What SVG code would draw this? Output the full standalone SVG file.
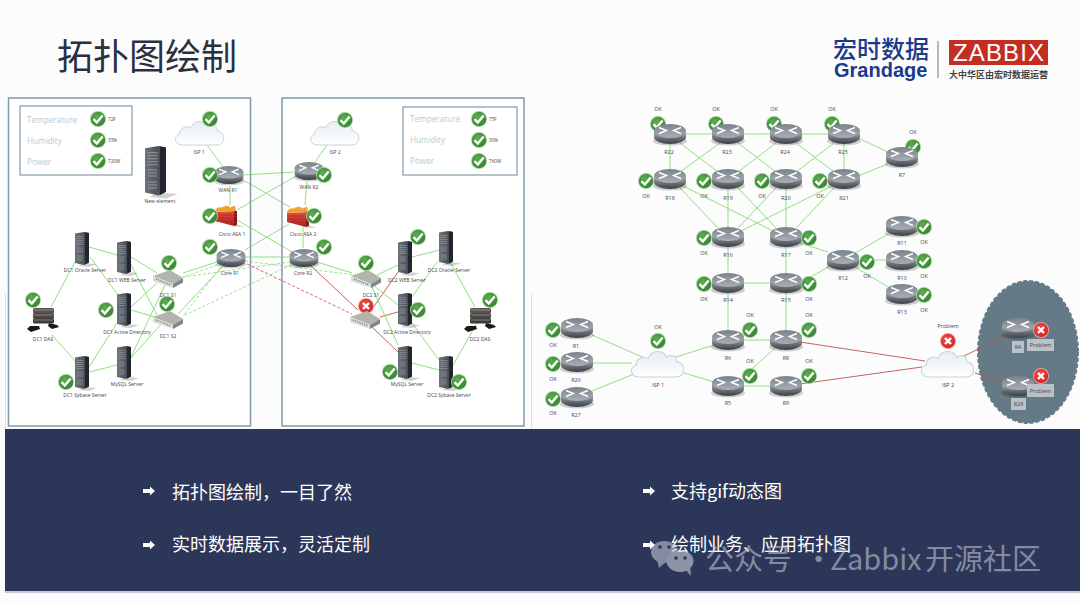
<svg xmlns="http://www.w3.org/2000/svg" width="1080" height="602" viewBox="0 0 1080 602">
<style>
text{font-family:"Open Sans","Liberation Sans","Noto Sans CJK SC",sans-serif}
.cjk{font-family:"Noto Sans CJK SC","Noto Sans",sans-serif}
.l{font-size:5px;fill:#444;text-anchor:middle}
.r{font-size:5.4px;fill:#444;text-anchor:middle}
.lg{font-size:8.2px;fill:#bcc7cf}
.v{font-size:4.6px;fill:#444}
.fill{fill:#fff}
.frame{fill:none;stroke:#7f9aa8;stroke-width:1.5}
.legend{fill:#fff;stroke:#8ea3b0;stroke-width:1.3}
.g{stroke:#8fe07f;stroke-width:1;fill:none}
.gd{stroke:#8fe07f;stroke-width:.9;stroke-dasharray:3 2;fill:none}
.re{stroke:#c0504d;stroke-width:.9;fill:none}
.rd{stroke:#d9534f;stroke-width:.9;stroke-dasharray:3 2;fill:none}
.bul{font-size:18px;fill:#fff}
.box{fill:#b9c2c8}
</style>
<defs>
<linearGradient id="rTop" x1="0" y1="0" x2="0" y2="1"><stop offset="0" stop-color="#7a828a"/><stop offset="1" stop-color="#a9afb5"/></linearGradient>
<linearGradient id="rSide" x1="0" y1="0" x2="0" y2="1"><stop offset="0" stop-color="#b3b8bd"/><stop offset=".6" stop-color="#646b71"/><stop offset="1" stop-color="#3a3f44"/></linearGradient>
<radialGradient id="okG" cx=".4" cy=".35" r=".75"><stop offset="0" stop-color="#5cae4e"/><stop offset="1" stop-color="#2f7f2c"/></radialGradient>
<radialGradient id="badG" cx=".4" cy=".35" r=".75"><stop offset="0" stop-color="#f0504a"/><stop offset="1" stop-color="#cf1f1f"/></radialGradient>
<linearGradient id="srv" x1="0" y1="0" x2="1" y2="0"><stop offset="0" stop-color="#6d737b"/><stop offset="1" stop-color="#3a3f47"/></linearGradient>
<linearGradient id="cl" x1="0" y1="0" x2="0" y2="1"><stop offset="0" stop-color="#e6eef3"/><stop offset="1" stop-color="#fff"/></linearGradient>
<linearGradient id="fw" x1="0" y1="0" x2="0" y2="1"><stop offset="0" stop-color="#e0503a"/><stop offset="1" stop-color="#b02020"/></linearGradient>
<g id="router">
<ellipse cx="0" cy="7" rx="17" ry="4.5" fill="#000" opacity=".18"/>
<path d="M-16,-3V3A16,7 0 0 0 16,3V-3Z" fill="url(#rSide)"/>
<ellipse cx="0" cy="-3" rx="16" ry="7" fill="url(#rTop)"/>
<path d="M-11,-6.5L-3.5,-3.5L-11,-.5M11,-6.5L3.5,-3.5L11,-.5" fill="none" stroke="#fff" stroke-width="1.4"/>
</g>
<g id="ok"><circle r="8" fill="#a9d5a2"/><circle r="7.2" fill="url(#okG)"/><path d="M-4.5,.2L-1.2,3.5L4.6,-3.6" fill="none" stroke="#fff" stroke-width="2.4"/></g>
<g id="bad"><circle r="8" fill="#f4a9a5"/><circle r="7.2" fill="url(#badG)"/><path d="M-3,-3L3,3M3,-3L-3,3" fill="none" stroke="#fff" stroke-width="2.4"/></g>
<g id="server">
<path d="M9,31L22,32L14,35L3,34Z" fill="#000" opacity=".18"/>
<path d="M0,1.5L9,0L14,1V30.5L9,33L0,31Z" fill="url(#srv)"/>
<path d="M10,.3L14,1V30.5L10,32.6Z" fill="#23272d"/>
<path d="M1.5,4.5H8.5M1.5,6.5H8.5M1.5,8.5H8.5M1.5,10.5H8.5M1.5,12.5H8.5M2,16H8M2,18H8M2,20H8M2,24H8M2,26H8M2,28H8" stroke="#9ba1a8" stroke-width=".6"/>
</g>
<g id="switch">
<path d="M-15,-3L2,-9L15,-1L5,5Z" fill="#b3b5ad"/>
<path d="M-15,-3L5,5V9L-15,2Z" fill="#d7dadb"/>
<path d="M5,5L15,-1V3.5L5,9Z" fill="#80858a"/>
<path d="M-12,0L2,5.5" stroke="#4c7a45" stroke-width="1.1" stroke-dasharray="1 1"/>
</g>
<g id="firewall">
<path d="M10,9L19,12L8,12Z" fill="#000" opacity=".15"/>
<path d="M-11,-3L10,-4L8,11L-11,6Z" fill="url(#fw)"/>
<path d="M8,-4H11V10L8,11Z" fill="#8e1a1a"/>
<path d="M-11,-3C-10,-8 -9,-5 -8,-8C-7,-5 -6,-10 -4,-7C-3,-10 -1,-7 0,-10C1,-7 3,-11 4,-7C6,-10 8,-7 9,-10L10,-4Z" fill="#f0a030"/>
<path d="M-10,0L8,0M-10,3L8,3M-10,6L8,6" stroke="#8e1a1a" stroke-width=".4"/>
</g>
<path id="cloud" d="M-17,12C-26,12 -27,3 -20,1C-21,-5 -13,-8 -9,-5C-7,-13 5,-14 8,-6C12,-10 18,-7 17,-2C26,-2 26,12 17,12Z" fill="url(#cl)" stroke="#c4d4dd" stroke-width="1"/>
<g id="das">
<path d="M-13,9H-4L-3,12L-12,15L-16,12Z" fill="#1a1a1a"/>
<path d="M6,6L14,8L16,10L9,12L5,9Z" fill="#1a1a1a"/>
<rect x="-10" y="-9" width="21" height="5.500" rx="1.500" fill="#5a5250"/>
<rect x="-10" y="-4" width="21" height="5.500" rx="1.500" fill="#4c4644"/>
<rect x="-10" y="1" width="21" height="5.500" rx="1.500" fill="#3d3a3a"/>
<path d="M-9,-7H10M-9,-2H10M-9,3H10" stroke="#a8a4a2" stroke-width=".7"/>
</g>
<path id="arrow" d="M0,-2H7V-4.5L12,0L7,4.5V2H0Z" fill="#fff"/>
</defs>

<rect width="1080" height="602" fill="#fcfcfd"/>
<g id="title"><text class="cjk" x="57" y="70" font-size="36" fill="#2a3040">拓扑图绘制</text></g>
<g id="logo">
<text class="cjk" x="833" y="58" font-size="24" font-weight="500" fill="#1c3a8c">宏时数据</text>
<text x="834" y="77" font-size="20" font-weight="700" fill="#1c3a8c" style="font-family:'Liberation Sans',sans-serif">Grandage</text>
<path d="M938,41V78" stroke="#777" stroke-width="1"/>
<rect x="949" y="40" width="99" height="25" fill="#c42e22"/>
<text x="998.500" y="61" font-size="24" fill="#fff" text-anchor="middle" textLength="91" style="font-family:'Liberation Sans',sans-serif">ZABBIX</text>
<text class="cjk" x="949" y="78" font-size="9" font-weight="700" fill="#444" textLength="99">大中华区由宏时数据运营</text>
</g>

<g id="panels">
<rect class="fill" x="8.500" y="98" width="242" height="328"/>
<rect class="fill" x="282" y="98" width="242" height="328"/>
<path d="M5.500,293V429M531.500,293V429" stroke="#dde1e4" stroke-width="1"/>
<ellipse cx="1028" cy="352" rx="50" ry="71" fill="#647a87" stroke="#647a87" stroke-width="2" stroke-dasharray="4 2"/>
</g>

<g id="connectors">
<path class="g" d="M207,145L224,168M243,175L294,172M243,180L290,207M230,186V205M237,210L296,176M237,220L292,252M289,224L245,250M303,226V248M307,181L305,205M327,145L315,162M245,257L290,257"/>
<path class="g" d="M217,262L183,273M224,265L178,314M317,262L352,273"/>
<path class="gd" d="M245,261L355,275M290,262L183,277M291,265L183,316M217,265L183,277M220,268L183,316"/>
<path class="rd" d="M247,264L352,314"/>
<path class="re" d="M310,265L358,310M398,272L370,312M380,317L398,312M372,327L398,352"/>
<path class="g" d="M89,247L117,255M75,262L51,307M90,257L118,295M130,263L157,315M128,255L157,273M131,307L157,283M131,310L155,317M131,357L165,285M131,358L163,322M89,372L117,365M89,367L117,323M76,362L52,335"/>
<path class="g" d="M398,265L377,275M412,257L440,250M373,285L398,305M372,287L398,345M437,262L412,297M450,262L475,307M412,323L439,360M412,363L439,370M453,365L477,323"/>
<path class="g" d="M686,134H828M670,143V172M680,143L718,172M720,143L680,172M738,143L776,172M776,143L738,172M796,143L834,172M834,143L796,172M844,143V172M858,138L888,152M858,176L888,164"/>
<path class="g" d="M680,188L718,228M683,186L773,231M728,188V228M738,188L776,228M776,188L738,228M786,188V228M832,186L741,231M834,188L796,228"/>
<path class="g" d="M728,246V274M786,246V274M742,283H772M728,292V331M786,292V331M744,340H770M744,386H770M743,377L775,348M800,283L830,266M800,243L828,252M855,253L890,233M860,260H886M855,267L890,288"/>
<path class="g" d="M592,335L642,357M593,363H632M592,391L634,374M673,358L714,345M684,373L714,382"/>
<path class="re" d="M800,342L925,361M800,384L922,367M962,357L1005,336M975,373L1003,382"/>
</g>
<g id="frames">
<rect class="frame" x="8.500" y="98" width="242" height="328"/>
<rect class="frame" x="282" y="98" width="242" height="328"/>
</g>

<g id="legend1">
<rect class="legend" x="20" y="106" width="112" height="69"/>
<text class="lg" x="27" y="123">Temperature</text><text class="lg" x="27" y="144">Humidity</text><text class="lg" x="27" y="165">Power</text>
<use href="#ok" x="98" y="119"/><use href="#ok" x="98" y="140"/><use href="#ok" x="98" y="161"/>
<text class="v" x="108" y="121">72F</text><text class="v" x="108" y="142">33%</text><text class="v" x="108" y="163">720W</text>
</g>
<g id="legend2">
<rect class="legend" x="403" y="107" width="114" height="68"/>
<text class="lg" x="410" y="122">Temperature</text><text class="lg" x="410" y="143">Humidity</text><text class="lg" x="410" y="164">Power</text>
<use href="#ok" x="479" y="119"/><use href="#ok" x="479" y="140"/><use href="#ok" x="479" y="161"/>
<text class="v" x="489" y="121">75F</text><text class="v" x="489" y="142">30%</text><text class="v" x="489" y="163">760W</text>
</g>

<g id="isp1-l"><use href="#cloud" x="200" y="133"/><use href="#ok" x="210" y="119"/><text class="l" x="199" y="154">ISP 1</text></g>
<g id="isp2-l"><use href="#cloud" x="335" y="133"/><use href="#ok" x="345" y="120"/><text class="l" x="335" y="154">ISP 2</text></g>
<g id="wan-r1"><use href="#router" transform="translate(229,175) scale(.9)"/><use href="#ok" x="210" y="175"/><text class="l" x="228" y="192">WAN R1</text></g>
<g id="wan-r2"><use href="#router" transform="translate(309,171) scale(.9)"/><use href="#ok" x="324" y="175"/><text class="l" x="309" y="189">WAN R2</text></g>
<g id="new-element"><use href="#server" transform="translate(145,146) scale(1.5)"/><text class="l" x="160" y="203">New element</text></g>
<g id="asa1"><use href="#firewall" x="226" y="215"/><use href="#ok" x="210" y="216"/><text class="l" x="232" y="236">Cisco ASA 1</text></g>
<g id="asa2"><use href="#firewall" x="298" y="216"/><use href="#ok" x="314" y="216"/><text class="l" x="303" y="236">Cisco ASA 2</text></g>
<g id="core-r1"><use href="#router" transform="translate(231,258) scale(.9)"/><use href="#ok" x="210" y="247"/><text class="l" x="230" y="275">Core R1</text></g>
<g id="core-r2"><use href="#router" transform="translate(304,258) scale(.9)"/><use href="#ok" x="324" y="247"/><text class="l" x="303" y="275">Core R2</text></g>
<g id="dc1-oracle"><use href="#server" x="75" y="232"/><text class="l" x="85" y="272">DC1 Oracle Server</text></g>
<g id="dc1-web"><use href="#server" x="117" y="241"/><text class="l" x="127" y="282">DC1 WEB Server</text></g>
<g id="dc1-s1"><use href="#switch" x="168" y="279"/><use href="#ok" x="169" y="263"/><text class="l" x="168" y="297">DC1 S1</text></g>
<g id="dc1-s2"><use href="#switch" x="168" y="320"/><use href="#ok" x="167" y="304"/><text class="l" x="168" y="338">DC1 S2</text></g>
<g id="dc1-ad"><use href="#server" x="117" y="293"/><use href="#ok" x="106" y="310"/><text class="l" x="127" y="334">DC1 Active Directory</text></g>
<g id="dc1-das"><use href="#das" x="43" y="317"/><use href="#ok" x="33" y="300"/><text class="l" x="43" y="341">DC1 DAS</text></g>
<g id="dc1-mysql"><use href="#server" x="117" y="346"/><text class="l" x="127" y="386">MySQL Server</text></g>
<g id="dc1-sybase"><use href="#server" x="75" y="356"/><use href="#ok" x="66" y="382"/><text class="l" x="85" y="397">DC1 Sybase Server</text></g>
<g id="dc2-web"><use href="#server" x="398" y="241"/><text class="l" x="407" y="282">DC2 WEB Server</text></g>
<g id="dc2-oracle"><use href="#server" x="439" y="231"/><use href="#ok" x="418" y="237"/><text class="l" x="449" y="272">DC2 Oracle Server</text></g>
<g id="dc2-s1"><use href="#switch" x="366" y="279"/><use href="#ok" x="366" y="263"/><text class="l" x="371" y="297">DC2 S1</text></g>
<g id="dc2-s2"><use href="#bad" x="366" y="306"/><use href="#switch" x="365" y="320"/></g>
<g id="dc2-ad"><use href="#server" x="398" y="293"/><use href="#ok" x="418" y="310"/><text class="l" x="407" y="334">DC2 Active Directory</text></g>
<g id="dc2-das"><use href="#das" x="480" y="317"/><use href="#ok" x="490" y="300"/><text class="l" x="480" y="341">DC2 DAS</text></g>
<g id="dc2-mysql"><use href="#server" x="398" y="346"/><use href="#ok" x="390" y="372"/><text class="l" x="407" y="386">MySQL Server</text></g>
<g id="dc2-sybase"><use href="#server" x="439" y="356"/><use href="#ok" x="459" y="382"/><text class="l" x="449" y="397">DC2 Sybase Server</text></g>

<g id="R22"><use href="#ok" x="658" y="124"/><use href="#router" x="670" y="134"/><text class="r" x="658" y="111">OK</text><text class="r" x="669" y="154">R22</text></g>
<g id="R23"><use href="#ok" x="716" y="124"/><use href="#router" x="728" y="134"/><text class="r" x="716" y="111">OK</text><text class="r" x="727" y="154">R23</text></g>
<g id="R24"><use href="#ok" x="774" y="124"/><use href="#router" x="786" y="134"/><text class="r" x="774" y="111">OK</text><text class="r" x="785" y="154">R24</text></g>
<g id="R25"><use href="#ok" x="832" y="124"/><use href="#router" x="844" y="134"/><text class="r" x="832" y="111">OK</text><text class="r" x="843" y="154">R25</text></g>
<g id="R18"><use href="#ok" x="646" y="181"/><use href="#router" x="670" y="179"/><text class="r" x="646" y="198">OK</text><text class="r" x="670" y="200">R18</text></g>
<g id="R19"><use href="#ok" x="704" y="181"/><use href="#router" x="728" y="179"/><text class="r" x="704" y="198">OK</text><text class="r" x="728" y="200">R19</text></g>
<g id="R20"><use href="#ok" x="762" y="181"/><use href="#router" x="786" y="179"/><text class="r" x="762" y="198">OK</text><text class="r" x="786" y="200">R20</text></g>
<g id="R21"><use href="#ok" x="820" y="181"/><use href="#router" x="844" y="179"/><text class="r" x="820" y="198">OK</text><text class="r" x="844" y="200">R21</text></g>
<g id="R7"><use href="#ok" x="913" y="147"/><use href="#router" x="902" y="157"/><text class="r" x="913" y="134">OK</text><text class="r" x="902" y="177">R7</text></g>
<g id="R16"><use href="#router" x="728" y="237"/><use href="#ok" x="704" y="238"/><text class="r" x="704" y="255">OK</text><text class="r" x="728" y="257">R16</text></g>
<g id="R17"><use href="#router" x="786" y="237"/><use href="#ok" x="809" y="238"/><text class="r" x="809" y="255">OK</text><text class="r" x="786" y="257">R17</text></g>
<g id="R14"><use href="#router" x="728" y="283"/><use href="#ok" x="704" y="284"/><text class="r" x="704" y="301">OK</text><text class="r" x="728" y="302">R14</text></g>
<g id="R15"><use href="#router" x="786" y="283"/><use href="#ok" x="809" y="284"/><text class="r" x="809" y="301">OK</text><text class="r" x="786" y="302">R15</text></g>
<g id="R12"><use href="#router" x="843" y="260"/><use href="#ok" x="867" y="262"/><text class="r" x="867" y="278">OK</text><text class="r" x="843" y="280">R12</text></g>
<g id="R11"><use href="#router" x="902" y="226"/><use href="#ok" x="924" y="227"/><text class="r" x="924" y="244">OK</text><text class="r" x="902" y="245">R11</text></g>
<g id="R10"><use href="#router" x="902" y="260"/><use href="#ok" x="924" y="261"/><text class="r" x="924" y="278">OK</text><text class="r" x="902" y="280">R10</text></g>
<g id="R13"><use href="#router" x="902" y="294"/><use href="#ok" x="924" y="295"/><text class="r" x="924" y="312">OK</text><text class="r" x="902" y="314">R13</text></g>
<g id="R1"><use href="#router" x="577" y="328"/><use href="#ok" x="553" y="330"/><text class="r" x="553" y="347">OK</text><text class="r" x="576" y="348">R1</text></g>
<g id="R26"><use href="#router" x="577" y="362"/><use href="#ok" x="553" y="364"/><text class="r" x="553" y="381">OK</text><text class="r" x="576" y="382">R26</text></g>
<g id="R27"><use href="#router" x="577" y="397"/><use href="#ok" x="553" y="399"/><text class="r" x="553" y="415">OK</text><text class="r" x="576" y="417">R27</text></g>
<g id="ISP1"><use href="#cloud" transform="translate(658,364) scale(1.08)"/><use href="#ok" x="658" y="341"/><text class="r" x="658" y="329">OK</text><text class="r" x="658" y="387">ISP 1</text></g>
<g id="R6"><use href="#router" x="728" y="340"/><use href="#ok" x="750" y="330"/><text class="r" x="750" y="317">OK</text><text class="r" x="728" y="360">R6</text></g>
<g id="R8"><use href="#router" x="786" y="340"/><use href="#ok" x="809" y="330"/><text class="r" x="809" y="317">OK</text><text class="r" x="786" y="360">R8</text></g>
<g id="R5"><use href="#router" x="728" y="386"/><use href="#ok" x="750" y="376"/><text class="r" x="750" y="363">OK</text><text class="r" x="728" y="405">R5</text></g>
<g id="R9"><use href="#router" x="786" y="386"/><use href="#ok" x="809" y="376"/><text class="r" x="809" y="363">OK</text><text class="r" x="786" y="405">R9</text></g>
<g id="ISP2"><use href="#cloud" transform="translate(948,364) scale(1.08)"/><use href="#bad" x="948" y="341"/><text class="r" x="948" y="328">Problem</text><text class="r" x="948" y="387">ISP 2</text></g>
<g id="R4"><use href="#router" x="1018" y="328"/><use href="#bad" x="1041" y="330"/><rect class="box" x="1012" y="341" width="12" height="12"/><text class="r" x="1018" y="349">R4</text><rect class="box" x="1027" y="339" width="27" height="12"/><text class="r" x="1040.500" y="347">Problem</text></g>
<g id="R28"><use href="#router" x="1018" y="386"/><use href="#bad" x="1041" y="376"/><rect class="box" x="1011" y="398" width="15" height="12"/><text class="r" x="1018.500" y="406">R28</text><rect class="box" x="1027" y="384" width="27" height="13"/><text class="r" x="1040.500" y="393">Problem</text></g>

<g id="band">
<rect x="5" y="429" width="1075" height="162" fill="#2b3658"/>
<rect x="5" y="591" width="1075" height="2" fill="#c3cadb"/>
<use href="#arrow" x="143" y="491"/><use href="#arrow" x="143" y="545"/><use href="#arrow" x="643" y="491"/><use href="#arrow" x="643" y="545"/>
<text class="cjk bul" x="172" y="499">拓扑图绘制，一目了然</text>
<text class="cjk bul" x="172" y="551">实时数据展示，灵活定制</text>
<text class="cjk bul" x="671" y="498">支持gif动态图</text>
<text class="cjk bul" x="671" y="551">绘制业务、应用拓扑图</text>
</g>
<g id="watermark" opacity=".58">
<text class="cjk" y="570" font-size="29" fill="#c4c8d2"><tspan x="705">公众号</tspan><tspan x="804">·</tspan><tspan x="830">Zabbix</tspan><tspan x="925">开源社区</tspan></text>
<ellipse cx="664" cy="552" rx="13" ry="11" fill="#c4c8d2"/><path d="M657,560L659,568L667,561Z" fill="#c4c8d2"/>
<ellipse cx="680" cy="561" rx="13.500" ry="11" fill="#d6d9e0"/><path d="M685,569L691,576L690,565Z" fill="#d6d9e0"/>
<circle cx="660" cy="547" r="1.800" fill="#2b3658"/><circle cx="669" cy="547" r="1.800" fill="#2b3658"/><circle cx="676" cy="558" r="1.800" fill="#2b3658"/><circle cx="685" cy="558" r="1.800" fill="#2b3658"/>
</g>
</svg>
